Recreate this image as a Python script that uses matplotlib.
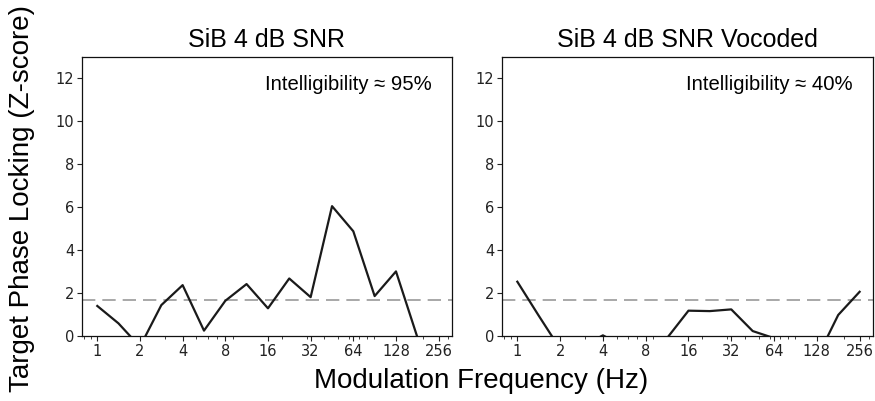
import matplotlib
matplotlib.use("Agg")
import matplotlib.pyplot as plt
from matplotlib.ticker import NullFormatter, FixedLocator

# ---- data ----
freqs = [1, 1.41, 2, 2.83, 4, 5.66, 8, 11.3, 16, 22.6, 32, 45.3, 64, 90.5, 128, 181, 256]
z_snr = [1.40, 0.59, -0.5, 1.44, 2.37, 0.25, 1.64, 2.42, 1.29, 2.68, 1.81, 6.05, 4.88, 1.86, 3.01, -0.05, -0.8]
z_voc = [2.53, 0.96, -0.6, -0.5, 0.03, -0.5, -0.6, -0.1, 1.18, 1.16, 1.24, 0.23, -0.1, -0.8, -1.04, 0.98, 2.06]
threshold = 1.68
titles = ["SiB 4 dB SNR", "SiB 4 dB SNR Vocoded"]
notes = ["Intelligibility \u2248 95%", "Intelligibility \u2248 40%"]
xtick_vals = [1, 2, 4, 8, 16, 32, 64, 128, 256]
xtick_labels = ["1", "2", "4", "8", "16", "32", "64", "128", "256"]
ytick_vals = [0, 2, 4, 6, 8, 10, 12]

SANS = ["Liberation Sans", "DejaVu Sans"]

W, H = 875, 401
fig = plt.figure(figsize=(W / 100, H / 100), dpi=100)

boxes = [(82, 57, 452, 336), (502, 57, 873, 336)]
series = [z_snr, z_voc]

for i, (l, t, r, b) in enumerate(boxes):
    ax = fig.add_axes([l / W, (H - b) / H, (r - l) / W, (b - t) / H])
    ax.set_xscale("log")
    ax.plot(freqs, series[i], color="#1a1a1a", lw=1.6, zorder=3)
    ax.axhline(threshold, color="#999999", lw=1.2, dashes=(8, 4.2), zorder=2)
    ax.set_xlim(0.78, 318)
    ax.set_ylim(0, 13)
    ax.xaxis.set_major_locator(FixedLocator(xtick_vals))
    ax.set_xticklabels(xtick_labels)
    ax.xaxis.set_minor_formatter(NullFormatter())
    ax.set_yticks(ytick_vals)
    ax.tick_params(axis="both", which="major", labelsize=10.5, length=3.5, width=0.8,
                   colors="#222222", pad=2)
    ax.tick_params(axis="x", which="minor", length=2, width=0.6, colors="#222222")
    for lab in ax.get_xticklabels() + ax.get_yticklabels():
        lab.set_family("DejaVu Sans")
    for s in ax.spines.values():
        s.set_linewidth(0.9)
        s.set_color("#111111")
    ax.set_title(titles[i], fontsize=18, family=SANS, pad=7)
    ax.text(0.946, 0.90, notes[i], transform=ax.transAxes, ha="right", va="center",
            fontsize=14.6, family=SANS)

fig.text(22 / W, 1 - 198 / H, "Target Phase Locking (Z-score)", rotation=90,
         ha="center", va="center", fontsize=20, family=SANS)
fig.text(481 / W, 1 - 381 / H, "Modulation Frequency (Hz)", ha="center", va="center",
         fontsize=20, family=SANS)

fig.savefig("out.png", dpi=100)
